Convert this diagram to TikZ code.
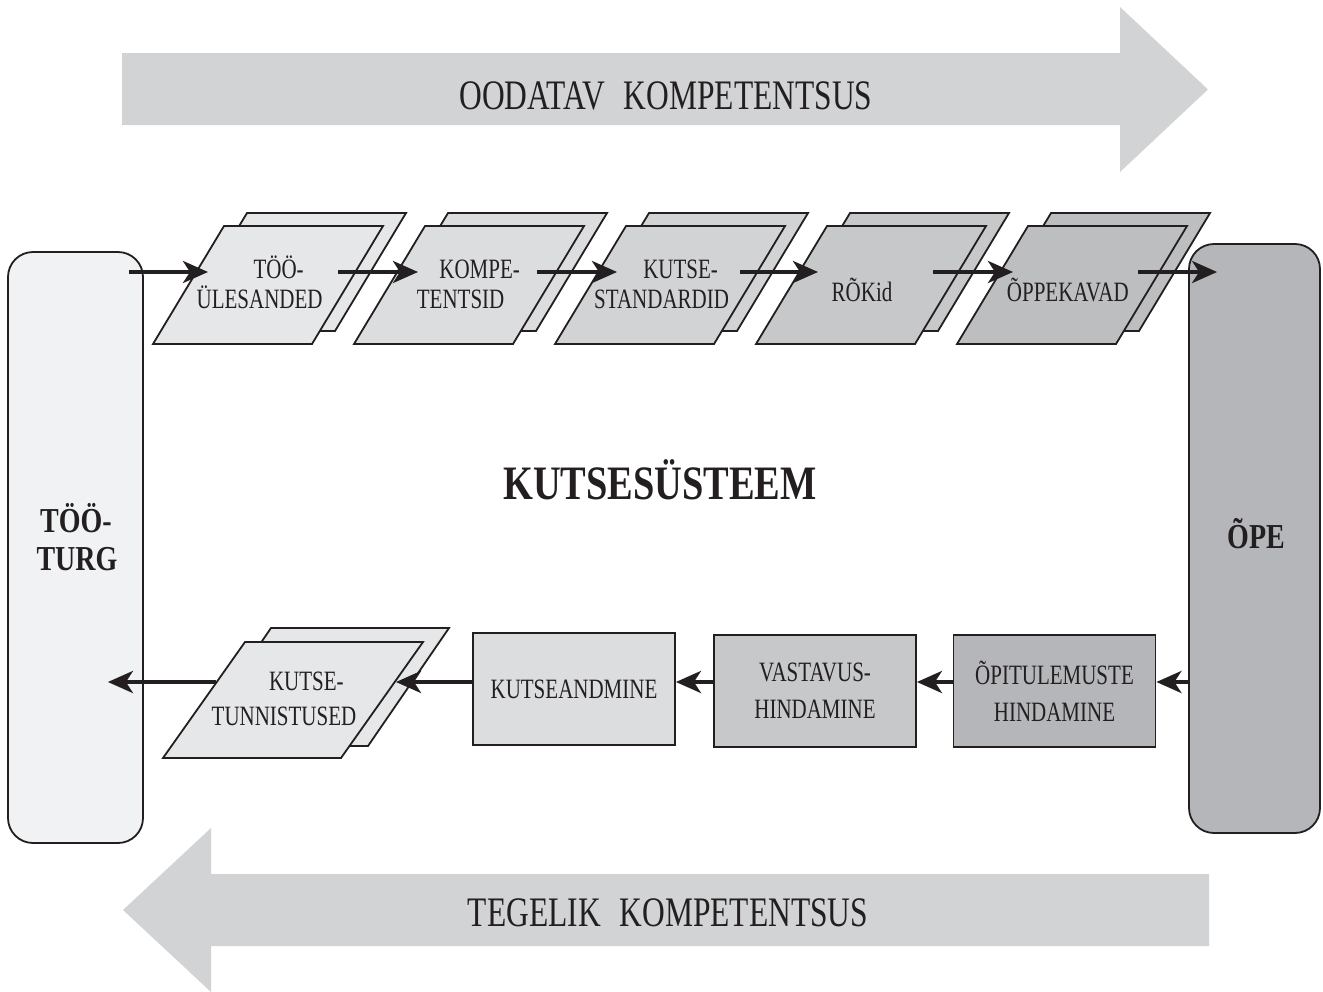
\documentclass[tikz,border=0pt]{standalone}
\usepackage{fontspec}
\setmainfont{Liberation Serif}[FakeStretch=0.75]
\newfontfamily\heavyfont{Liberation Serif}[FakeStretch=0.8]
\usetikzlibrary{arrows.meta,calc}

\definecolor{ink}{HTML}{231F20}
\definecolor{band}{HTML}{D1D3D4}
\definecolor{marketfill}{HTML}{F1F2F3}
\definecolor{learnfill}{HTML}{B5B6B9}
\definecolor{tone1}{HTML}{E6E7E8}
\definecolor{tone2}{HTML}{DCDDDE}
\definecolor{tone3}{HTML}{D1D3D4}
\definecolor{tone4}{HTML}{C7C8CA}
\definecolor{tone5}{HTML}{BCBEC0}

% a stacked pair of sheets; #1 = x of the front sheet's lower left corner, #2 = fill
\newcommand\drawsheet[2]{%
  \path[outline, fill=#2] (#1+23,331) -- ++(159,0) -- ++(71,-118) -- ++(-159,0) -- cycle;
  \path[outline, fill=#2] (#1,344) -- ++(159,0) -- ++(71,-118) -- ++(-159,0) -- cycle;}

\begin{document}
\begin{tikzpicture}[x=1pt,y=-1pt,
  outline/.style={draw=ink, line width=1.8pt, line join=miter},
  pillar/.style={outline, rounded corners=25pt, inner sep=0pt},
  stagebox/.style={outline, minimum width=202pt, minimum height=112pt, inner sep=0pt,
    align=center, text=ink, font=\fontsize{28}{37}\selectfont},
  flow/.style={draw=ink, line width=4pt, -{Stealth[length=25pt,width=22pt,inset=7pt]}},
  lbl/.style={text=ink, inner sep=0pt, anchor=base, font=\fontsize{28}{32}\selectfont},
  heavy/.style={text=ink, inner sep=0pt, anchor=base, font=\heavyfont\bfseries\fontsize{35}{40}\selectfont},
  bandtext/.style={text=ink, inner sep=0pt, anchor=base, font=\fontsize{42}{48}\selectfont}]

\useasboundingbox (0,0) rectangle (1323,991);

% broad direction arrows
\fill[band] (122,53) -- (1120,53) -- (1120,7) -- (1208,89.5) -- (1120,172) -- (1120,125)
  -- (122,125) -- cycle;
\fill[band] (1209,874) -- (211,874) -- (211,828) -- (123,910) -- (211,992) -- (211,946)
  -- (1209,946) -- cycle;
\node[bandtext] (expected) at (666,109) {OODATAV\hspace{0.45em}KOMPETENTSUS};
\node[bandtext] (actual) at (668,926) {TEGELIK\hspace{0.45em}KOMPETENTSUS};

% side pillars
\node[pillar, fill=marketfill, minimum width=135pt, minimum height=591pt] (tooturg) at (75.5,547.5) {};
\node[pillar, fill=learnfill, minimum width=131pt, minimum height=589pt] (ope) at (1254.5,538.5) {};
\node[heavy] (tooturg1) at (76,532) {TÖÖ-};
\node[heavy] (tooturg2) at (77,570) {TURG};
\node[heavy] (opelabel) at (1256,548) {ÕPE};

\node[text=ink, inner sep=0pt, anchor=base, font=\heavyfont\bfseries\fontsize{48}{54}\selectfont]
  (system) at (660,499) {KUTSESÜSTEEM};

% upper chain of documents
\drawsheet{153}{tone1}
\drawsheet{354}{tone2}
\drawsheet{555}{tone3}
\drawsheet{756}{tone4}
\drawsheet{957}{tone5}
\node[lbl] (s1a) at (278.6,278) {TÖÖ-};
\node[lbl] (s1b) at (259.6,308) {ÜLESANDED};
\node[lbl] (s2a) at (479.6,278) {KOMPE-};
\node[lbl] (s2b) at (460.6,308) {TENTSID};
\node[lbl] (s3a) at (680.6,278) {KUTSE-};
\node[lbl] (s3b) at (661.6,308) {STANDARDID};
\node[lbl] (s4) at (862,301) {RÕKid};
\node[lbl] (s5) at (1067.8,301) {ÕPPEKAVAD};

% lower chain
\path[outline, fill=tone1] (190,746) -- ++(178,0) -- ++(81,-118) -- ++(-178,0) -- cycle;
\path[outline, fill=tone1] (163,758) -- ++(178,0) -- ++(82,-116) -- ++(-178,0) -- cycle;
\node[lbl] (cert1) at (306.4,690) {KUTSE-};
\node[lbl] (cert2) at (284,725) {TUNNISTUSED};
\node[stagebox, fill=tone2] (kutseand) at (574,689) {KUTSEANDMINE};
\node[stagebox, fill=tone4] (vastavus) at (815,691) {VASTAVUS-\\HINDAMINE};
\node[stagebox, fill=learnfill] (opit) at (1054.5,691) {ÕPITULEMUSTE\\HINDAMINE};

% connector levels and free ends
\coordinate (upper) at (0,272);
\coordinate (lower) at (0,682);
\coordinate (out1) at (338,272);  \coordinate (in2) at (418,272);
\coordinate (out2) at (537,272);  \coordinate (in3) at (617,272);
\coordinate (out3) at (740,272);  \coordinate (in4) at (818,272);
\coordinate (out4) at (933,272);  \coordinate (in5) at (1013,272);
\coordinate (out5) at (1138,272);
\coordinate (in1) at (208,272);
\coordinate (certin) at (396,682);
\coordinate (certout) at (216,682);

\draw[flow] ($(tooturg.east |- upper)+(-15,0)$) -- (in1);
\draw[flow] (out1) -- (in2);
\draw[flow] (out2) -- (in3);
\draw[flow] (out3) -- (in4);
\draw[flow] (out4) -- (in5);
\draw[flow] (out5) -- ($(ope.west |- upper)+(29,0)$);

\draw[flow] (ope.west |- lower) -- (opit.east |- lower);
\draw[flow] (opit.west |- lower) -- (vastavus.east |- lower);
\draw[flow] (vastavus.west |- lower) -- (kutseand.east |- lower);
\draw[flow] (kutseand.west |- lower) -- (certin);
\draw[flow] (certout) -- ($(tooturg.east |- lower)+(-36,0)$);
\end{tikzpicture}
\end{document}
